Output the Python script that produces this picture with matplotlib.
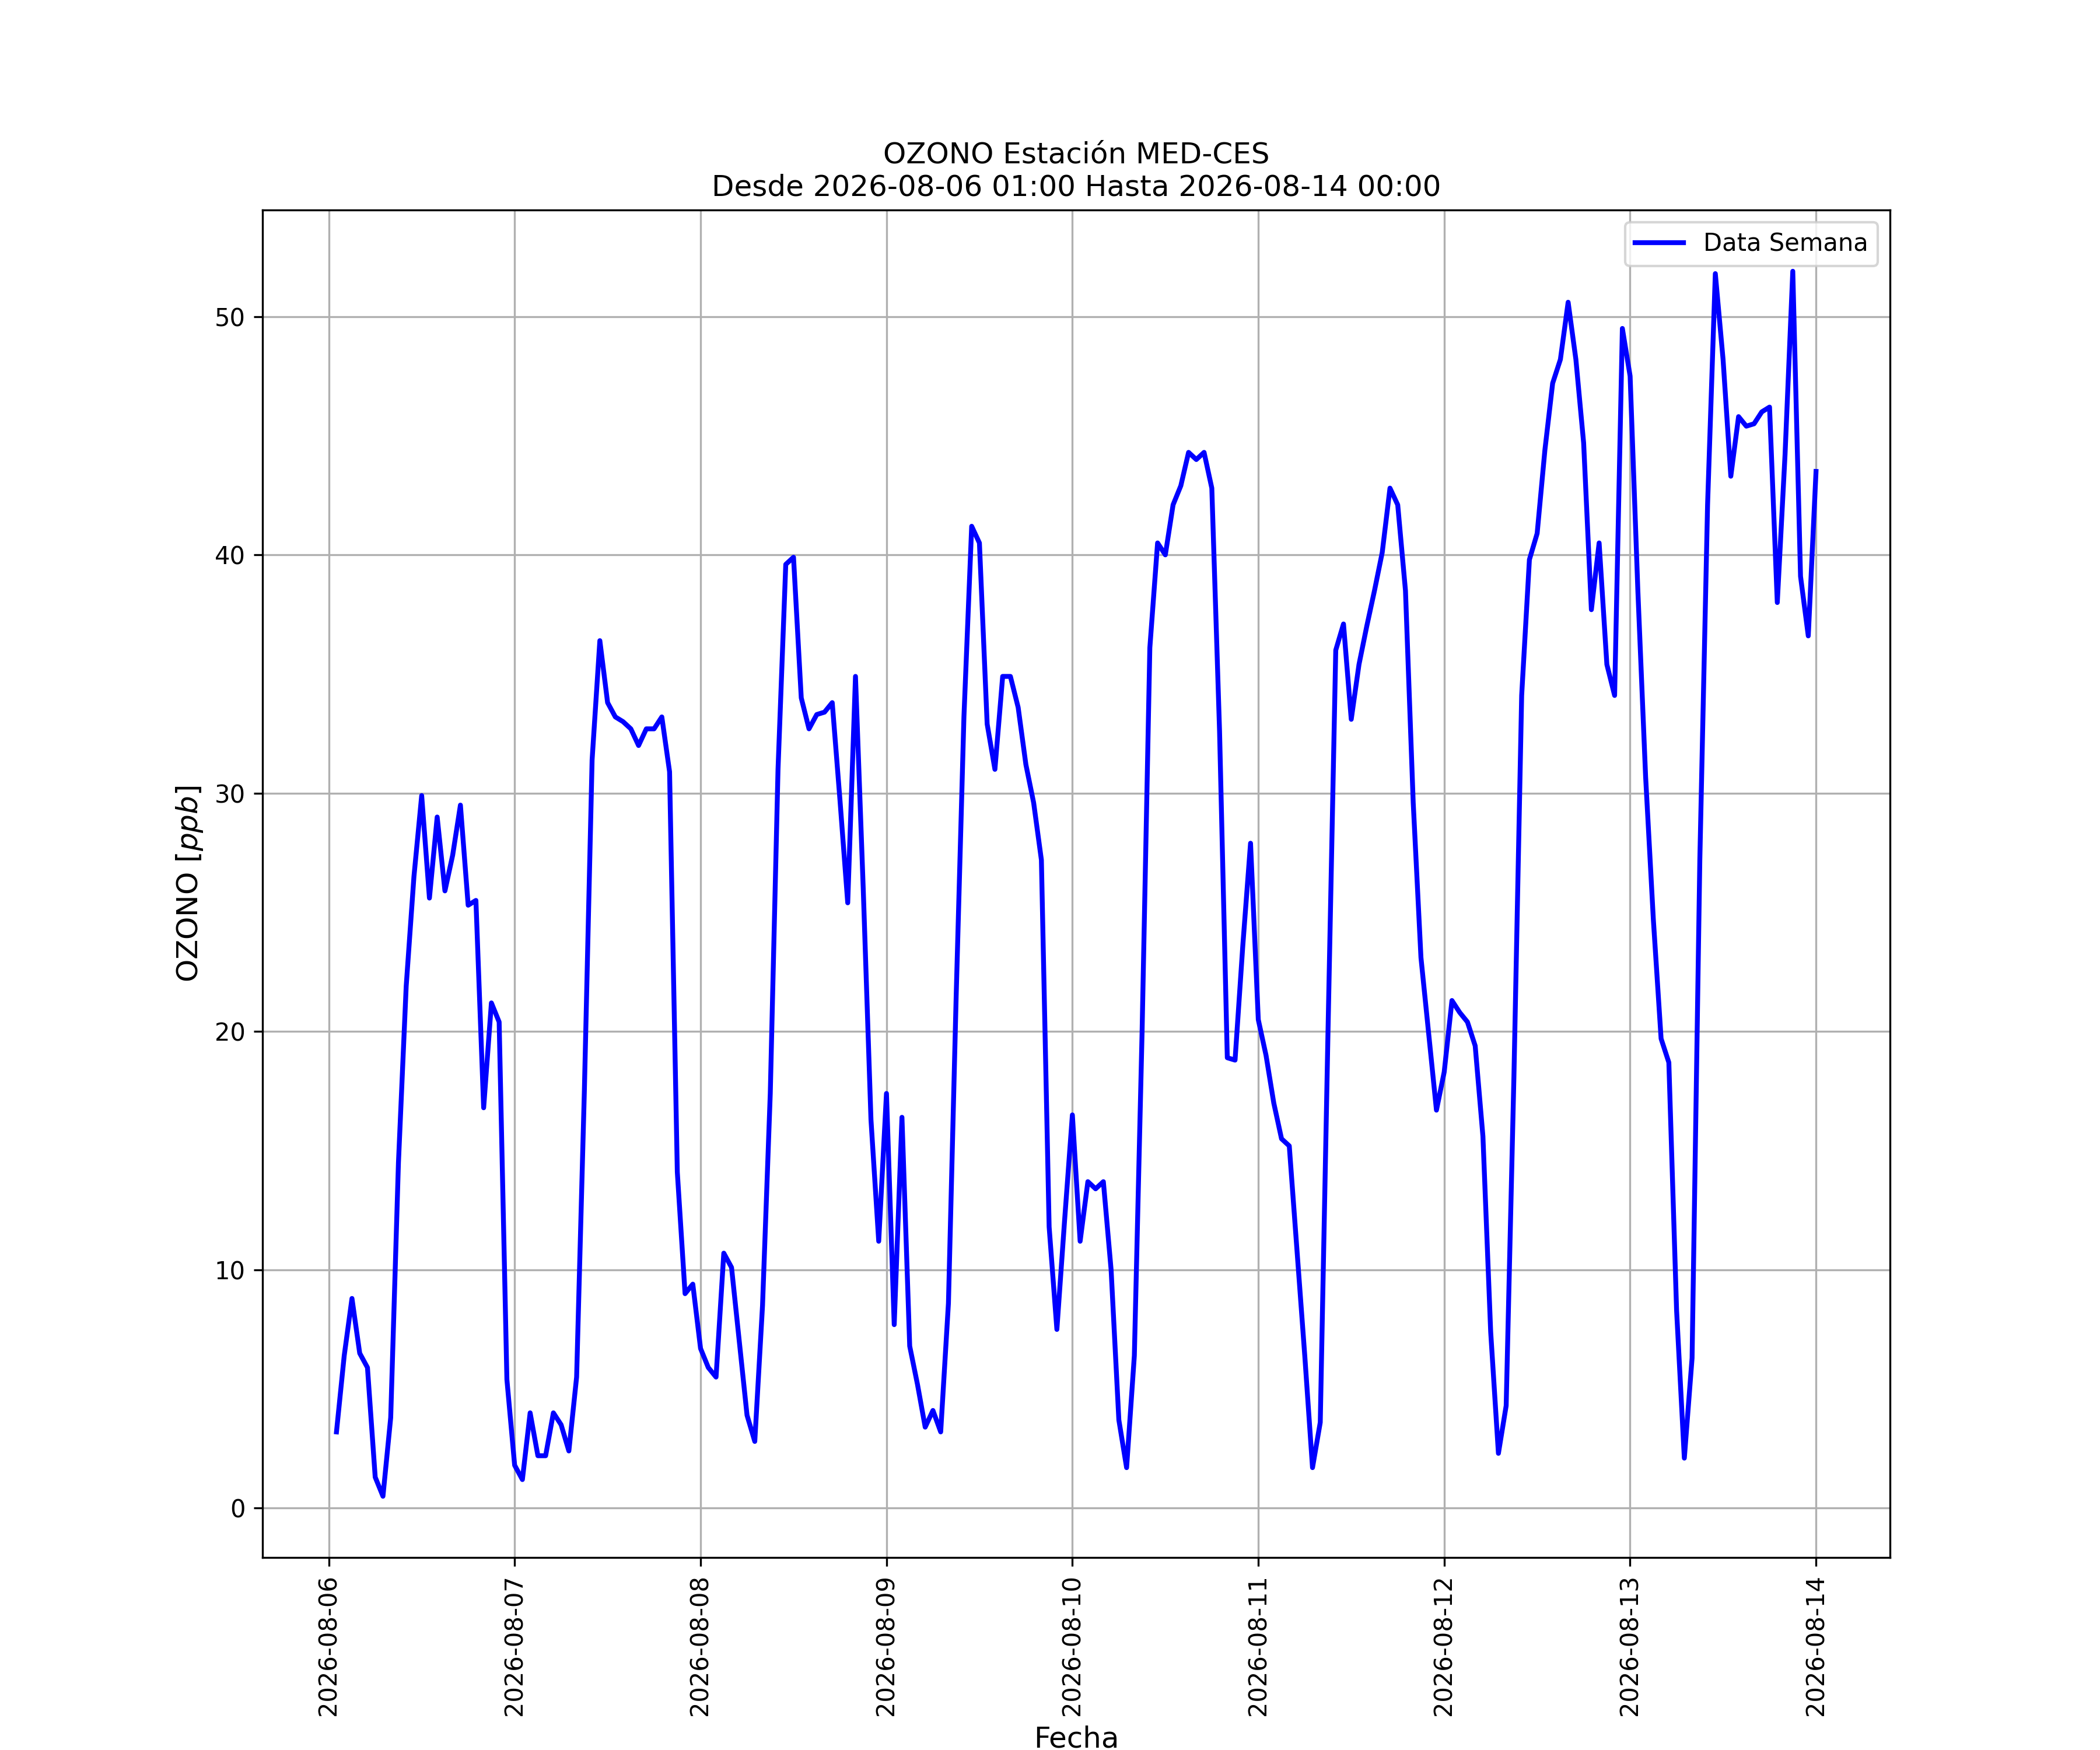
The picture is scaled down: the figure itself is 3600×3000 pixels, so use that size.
import matplotlib
matplotlib.use("Agg")
import matplotlib.pyplot as plt
import matplotlib.dates as mdates
import pandas as pd

ESTACION = "MED-CES"
CONTAMINANTE = "OZONO"
INICIO = "2026-08-06 01:00"
FIN = "2026-08-14 00:00"

# hourly ozone values (ppb), one row per day
dia_06 = [3.2, 6.4, 8.8, 6.5, 5.9, 1.3, 0.5, 3.8, 14.5, 21.9, 26.5, 29.9,
          25.6, 29.0, 25.9, 27.4, 29.5, 25.3, 25.5, 16.8, 21.2, 20.4, 5.4, 1.8]
dia_07 = [1.2, 4.0, 2.2, 2.2, 4.0, 3.5, 2.4, 5.5, 17.5, 31.4, 36.4, 33.8,
          33.2, 33.0, 32.7, 32.0, 32.7, 32.7, 33.2, 30.9, 14.1, 9.0, 9.4, 6.7]
dia_08 = [5.9, 5.5, 10.7, 10.1, 7.0, 3.9, 2.8, 8.5, 17.4, 31.0, 39.6, 39.9,
          34.0, 32.7, 33.3, 33.4, 33.8, 29.7, 25.4, 34.9, 26.0, 16.3, 11.2, 17.4]
dia_09 = [7.7, 16.4, 6.8, 5.2, 3.4, 4.1, 3.2, 8.6, 21.5, 33.2, 41.2, 40.5,
          32.9, 31.0, 34.9, 34.9, 33.6, 31.2, 29.6, 27.2, 11.8, 7.5, 12.1, 16.5]
dia_10 = [11.2, 13.7, 13.4, 13.7, 10.0, 3.7, 1.7, 6.4, 20.0, 36.1, 40.5, 40.0,
          42.1, 42.9, 44.3, 44.0, 44.3, 42.8, 32.6, 18.9, 18.8, 23.6, 27.9, 20.5]
dia_11 = [19.0, 17.0, 15.5, 15.2, 10.8, 6.4, 1.7, 3.6, 20.0, 36.0, 37.1, 33.1,
          35.4, 37.0, 38.5, 40.1, 42.8, 42.1, 38.5, 29.6, 23.1, 19.9, 16.7, 18.3]
dia_12 = [21.3, 20.8, 20.4, 19.4, 15.6, 7.4, 2.3, 4.3, 18.1, 34.1, 39.8, 40.9,
          44.4, 47.2, 48.2, 50.6, 48.2, 44.7, 37.7, 40.5, 35.4, 34.1, 49.5, 47.5]
dia_13 = [38.5, 30.7, 24.7, 19.7, 18.7, 8.3, 2.1, 6.3, 27.2, 42.1, 51.8, 48.2,
          43.3, 45.8, 45.4, 45.5, 46.0, 46.2, 38.0, 44.2, 51.9, 39.1, 36.6, 43.5]

valores = dia_06 + dia_07 + dia_08 + dia_09 + dia_10 + dia_11 + dia_12 + dia_13
fechas = pd.date_range(INICIO, FIN, freq="h")


def main():
    fig = plt.figure(figsize=(12, 10), dpi=300)
    plt.plot(fechas, valores, color="blue", linestyle="-", linewidth=2,
             label="Data Semana")

    ax = plt.gca()
    ax.xaxis.set_major_locator(mdates.DayLocator())
    ax.xaxis.set_major_formatter(mdates.DateFormatter("%Y-%m-%d"))
    plt.xticks(rotation=90)

    plt.title("{} Estación {}\nDesde {} Hasta {}".format(
        CONTAMINANTE, ESTACION, INICIO, FIN))
    plt.xlabel("Fecha", fontsize=12)
    plt.ylabel(CONTAMINANTE + " $[ppb]$", fontsize=12)
    plt.legend(loc="upper right")
    plt.grid(True)

    fig.savefig("out.png", dpi=300)


if __name__ == "__main__":
    main()
